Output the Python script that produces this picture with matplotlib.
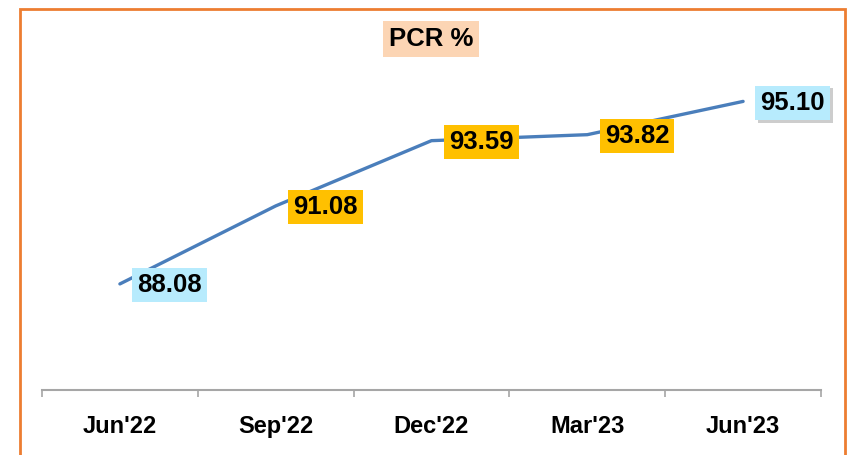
import matplotlib
matplotlib.use("Agg")
import matplotlib.pyplot as plt
from matplotlib.patches import Rectangle
import matplotlib.patheffects as pe

categories = ["Jun'22", "Sep'22", "Dec'22", "Mar'23", "Jun'23"]
pcr_values = [88.08, 91.08, 93.59, 93.82, 95.10]
label_texts = ["88.08", "91.08", "93.59", "93.82", "95.10"]
label_colors = ["#b7ebfd", "#ffc000", "#ffc000", "#ffc000", "#b7ebfd"]

plt.rcParams['font.family'] = ['Liberation Sans', 'DejaVu Sans']

W, H = 848, 455
fig = plt.figure(figsize=(W / 100, H / 100), dpi=100)
fig.patch.set_facecolor('white')

# Orange frame
fig.add_artist(Rectangle((20 / W, -0.05), (845 - 20) / W, (1 - 9 / H) + 0.05,
                         transform=fig.transFigure, fill=False,
                         edgecolor='#ed7d31', linewidth=2))

ax = fig.add_axes([42 / W, 1 - 390 / H, (821 - 42) / W, (390 - 78) / H])
x = list(range(len(categories)))
ax.plot(x, pcr_values, color='#4a7ebb', linewidth=2.4, solid_capstyle='round')
ax.set_xlim(-0.5, len(categories) - 0.5)
ax.set_ylim(84, 96)

for sp in ['top', 'right', 'left']:
    ax.spines[sp].set_visible(False)
ax.spines['bottom'].set_color('#a6a6a6')
ax.spines['bottom'].set_linewidth(1.5)
ax.set_yticks([])
ax.set_xticks(x)
ax.set_xticklabels(categories, fontsize=17, fontweight='bold')
ax.tick_params(axis='x', which='major', length=0, pad=18)
ax.set_xticks([i - 0.5 for i in range(len(categories) + 1)], minor=True)
ax.tick_params(axis='x', which='minor', length=5, width=1.2, color='#a6a6a6', direction='out')
ax.patch.set_alpha(0)

for i, (v, t, c) in enumerate(zip(pcr_values, label_texts, label_colors)):
    txt = ax.annotate(t, (i, v), xytext=(12.5, -1), textcoords='offset points',
                      ha='left', va='center', fontsize=18.5, fontweight='bold',
                      bbox=dict(boxstyle='square,pad=0.2', facecolor=c, edgecolor='none'))
    if i == len(pcr_values) - 1:
        txt.get_bbox_patch().set_path_effects([
            pe.SimplePatchShadow(offset=(2, -2), shadow_rgbFace='#909090', alpha=0.45),
            pe.Normal()])

fig.text(431 / W, 1 - 39 / H, "PCR %", ha='center', va='center',
         fontsize=18.5, fontweight='bold',
         bbox=dict(boxstyle='square,pad=0.22', facecolor='#fcd5b4', edgecolor='none'))

fig.savefig('out.png', dpi=100)
